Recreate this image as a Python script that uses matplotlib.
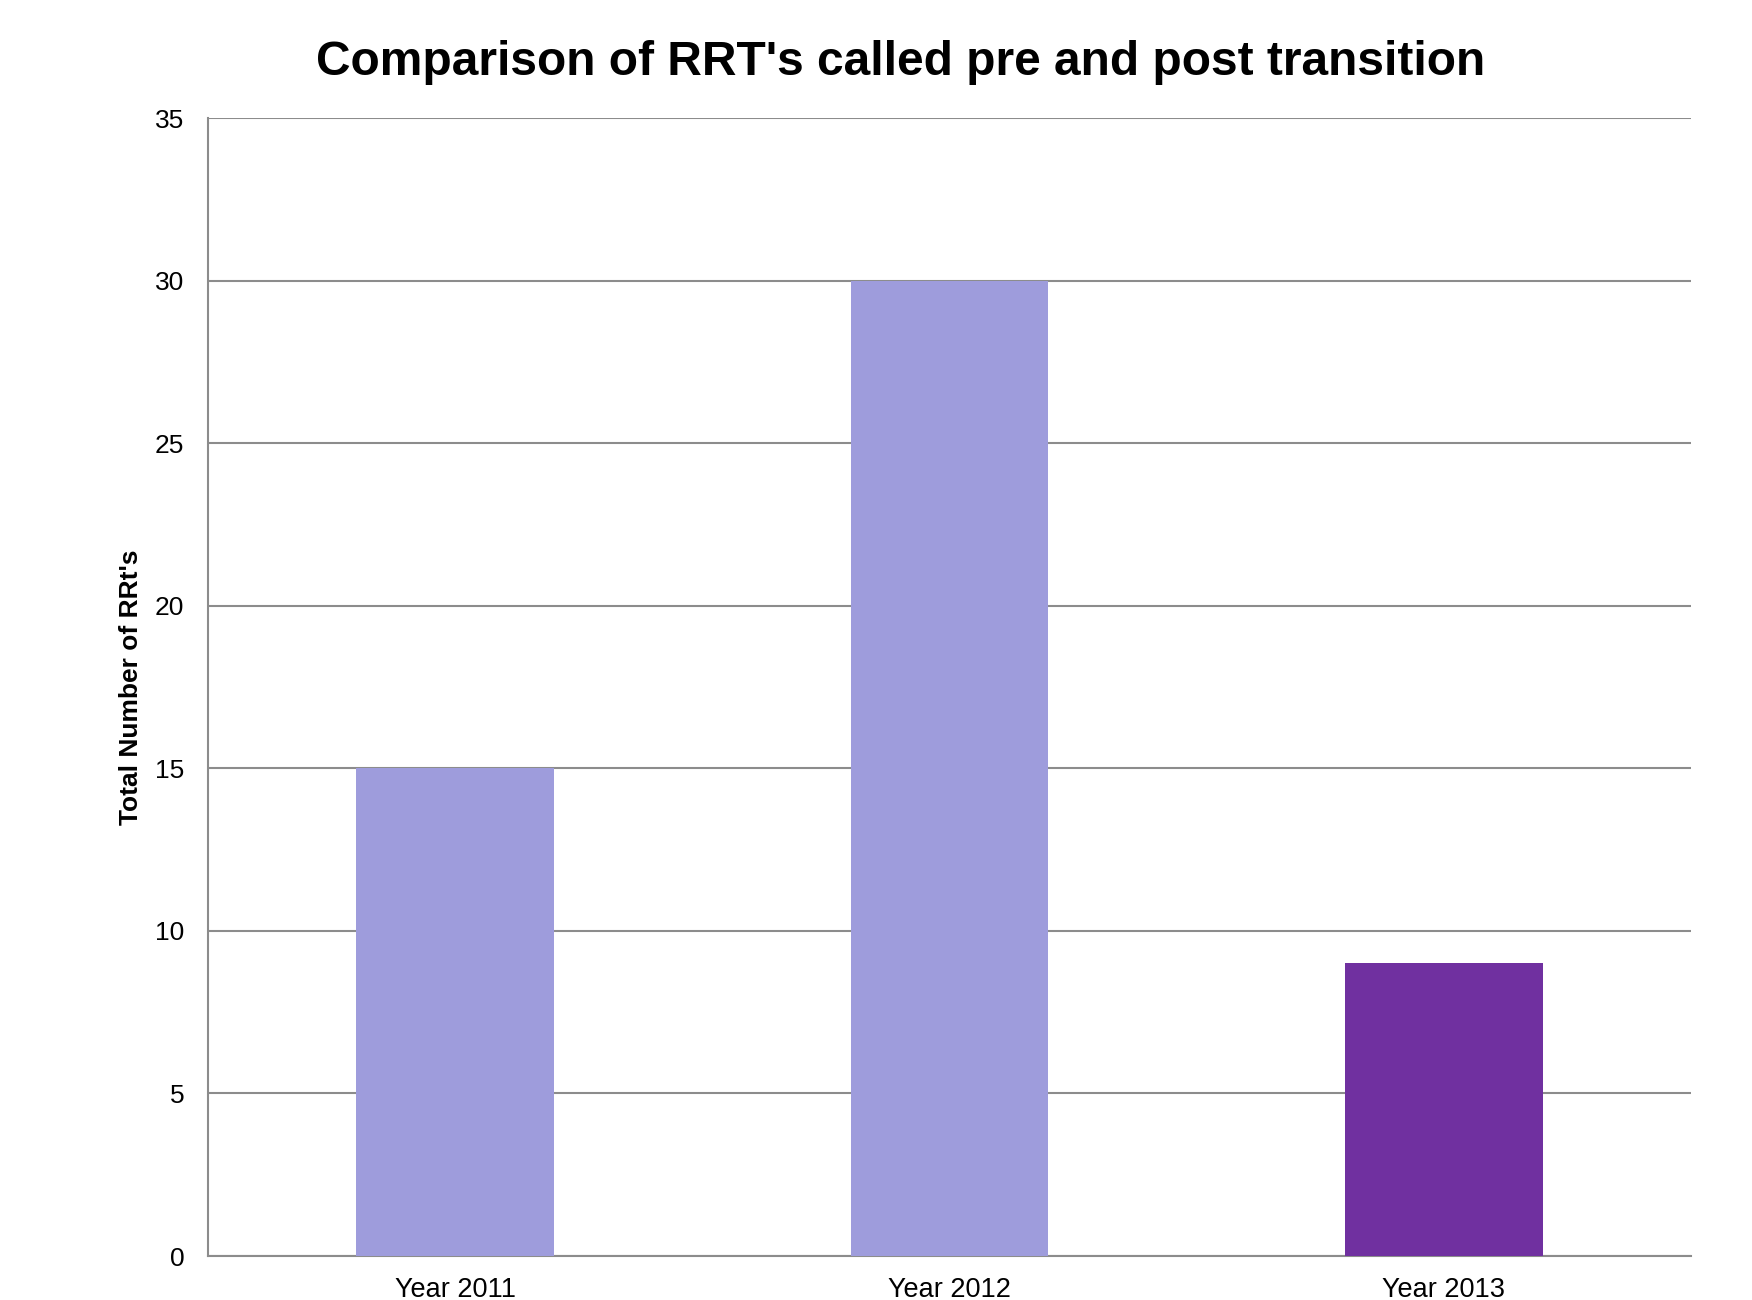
import matplotlib
matplotlib.use("Agg")
import matplotlib.pyplot as plt
import numpy as np

categories = ["Year 2011", "Year 2012", "Year 2013"]
values = [15, 30, 9]
bar_colors = ["#9E9CDC", "#9E9CDC", "#7030A0"]
y_ticks = [0, 5, 10, 15, 20, 25, 30, 35]

plt.rcParams["font.family"] = ["Liberation Sans", "DejaVu Sans"]

fig = plt.figure(figsize=(17.52, 13), dpi=100)
ax = fig.add_axes([0.1187, 0.0338, 0.9652 - 0.1187, 0.9092 - 0.0338])

x = np.arange(len(categories))
ax.bar(x, values, width=0.4, color=bar_colors, zorder=3)

ax.set_xlim(-0.5, len(categories) - 0.5)
ax.set_ylim(0, 35)
ax.set_yticks(y_ticks)
ax.set_yticklabels([str(t) for t in y_ticks], fontsize=19)
ax.set_xticks(x)
ax.set_xticklabels(categories, fontsize=19.5)
ax.tick_params(axis="y", length=0, pad=17)
ax.tick_params(axis="x", length=0, pad=15)

ax.yaxis.grid(True, color="#8C8C8C", linewidth=1.5, zorder=0)
ax.set_axisbelow(True)
for side in ["top", "right"]:
    ax.spines[side].set_visible(False)
for side in ["left", "bottom"]:
    ax.spines[side].set_color("#8C8C8C")
    ax.spines[side].set_linewidth(1.5)

ax.set_ylabel("Total Number of RRt's", fontsize=19, fontweight="bold")
ax.yaxis.set_label_coords(-0.044, 0.5)

fig.text(0.514, 0.952, "Comparison of RRT's called pre and post transition",
         fontsize=34.5, fontweight="bold", ha="center", va="center")

fig.savefig("out.png", dpi=100)
